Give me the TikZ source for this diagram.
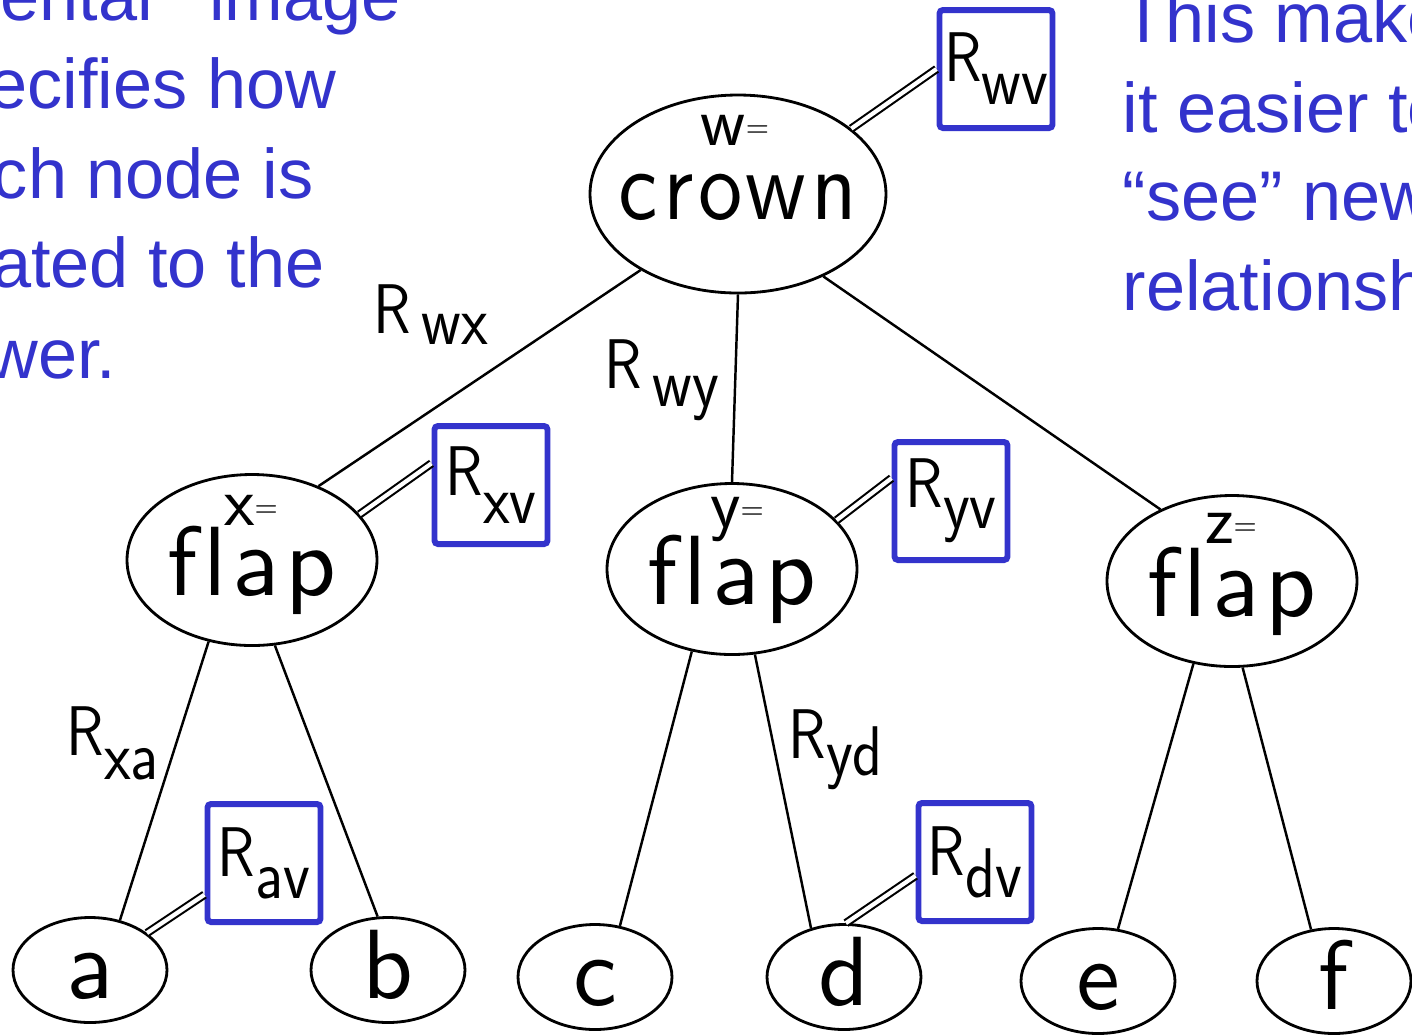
\documentclass[tikz,border=0pt]{standalone}
\usepackage{fontspec}
\usepackage{tikz}
\usetikzlibrary{calc,shapes.geometric}
\newfontfamily\arialfont{Liberation Sans}
\newfontfamily\treefont{lmsans10-regular.otf}[LetterSpace=6,Ligatures=CommonOff]
\definecolor{slideblue}{RGB}{51,51,204}
\newcommand{\rel}[2]{\scalebox{0.88}[1]{R\raisebox{-#1}{#2}}}
\newcommand{\vtag}[1]{#1\raisebox{2.5pt}{\fontsize{8}{8}\selectfont =}}

\begin{document}
\begin{tikzpicture}[x=0.1mm,y=-0.1mm,
                 term/.style={ellipse,draw,line width=0.8pt,inner sep=0pt,minimum width=25mm,minimum height=17.1mm,
                   font=\treefont\fontsize{28}{28}\selectfont,text height=22pt,text depth=2pt,
                   execute at begin node={\hbox to 0pt\bgroup\hss},execute at end node={\hss\egroup}},
                 leaf/.style={term,minimum width=15.4mm,minimum height=10.5mm,text height=17pt,text depth=1pt},
                 vtagtext/.style={font=\sffamily\fontsize{20}{20}\selectfont,inner sep=0pt,anchor=base},
                 relbox/.style={draw=slideblue,line width=1.7pt,rounded corners=1pt,minimum width=11.3mm,
                   minimum height=11.8mm,inner sep=0pt,font=\sffamily\fontsize{20}{20}\selectfont},
                 rellabel/.style={font=\sffamily\fontsize{20}{20}\selectfont,inner sep=0pt,anchor=base west},
                 branch/.style={line width=0.7pt},
                 link/.style={double,double distance=1.2pt,line width=0.6pt},
                 slidetext/.style={font=\arialfont\fontsize{20}{25.6}\selectfont,text=slideblue,inner sep=0pt}]
                 \useasboundingbox(0,0)rectangle(1412,1034);
                 \node[slidetext,anchor=base west](l1)at(0,20){ental\hspace{16pt}image};
                 \node[slidetext,anchor=base east](l2)at(337,108){ecifies how};
                 \node[slidetext,anchor=base east](l3)at(314,198){ch node is};
                 \node[slidetext,anchor=base east](l4)at(325,287){ated to the};
                 \node[slidetext,anchor=base east](l5)at(117,378){wer.};
                 \node[slidetext,anchor=base west](r1)at(1122,42){This makes};
                 \node[slidetext,anchor=base west](r2)at(1122,132){it easier to};
                 \node[slidetext,anchor=base west](r3)at(1122,220){“see” new};
                 \node[slidetext,anchor=base west](r4)at(1122,310){relationships};
                 \node[term,minimum width=29.6mm,minimum height=19.8mm,text height=16pt,text depth=1.4pt](crown)at(738,194){\scalebox{0.9}[1]{crown}};
                 \node[term](xflap)at(252,560){flap};
                 \node[term](yflap)at(732,569){flap};
                 \node[term](zflap)at(1232,581){flap};
                 \node[leaf](a)at(90,970){a};
                 \node[leaf](b)at(388,970){b};
                 \node[leaf](c)at(595,977){c};
                 \node[leaf](d)at(844,977){d};
                 \node[leaf](e)at(1098,981){e};
                 \node[leaf](f)at(1334,981){f};
                 \node[vtagtext](wtag)at(735,145){\vtag{w}};
                 \node[vtagtext](xtag)at(251,525){\vtag{x}};
                 \node[vtagtext](ytag)at(737,527){\vtag{y}};
                 \node[vtagtext](ztag)at(1231,543){\vtag{z}};
                 \draw[branch](crown.218)--(xflap.48);
                 \draw[branch](crown.270)--(yflap.90);
                 \draw[branch](crown.316)--(zflap.135);
                 \draw[branch](xflap.242)--(a.59);
                 \draw[branch](xflap.285)--(b.101);
                 \draw[branch](yflap.244)--(c.64);
                 \draw[branch](yflap.285)--(d.124);
                 \draw[branch](zflap.245)--(e.69);
                 \draw[branch](zflap.277)--(f.114);
                 \node[relbox](rwv)at(996,69){\rel{6.5pt}{wv}};
                 \node[relbox](rxv)at(491,485){\rel{8pt}{xv}};
                 \node[relbox](ryv)at(951,501){\rel{6pt}{yv}};
                 \node[relbox](rav)at(264,863){\rel{6.3pt}{av}};
                 \node[relbox](rdv)at(975,862){\rel{6.3pt}{dv}};
                 \draw[link](crown.30)--(rwv.west);
                 \draw[link](xflap.23)--(rxv.160);
                 \draw[link](yflap.25)--(ryv.159);
                 \draw[link](a.33)--(rav.208);
                 \draw[link](d.88)--(rdv.193);
                 \node[rellabel](lwx)at(373,333){\rel{3.4pt}{\,wx}};
                 \node[rellabel](lwy)at(604,388){\rel{5.4pt}{\,wy}};
                 \node[rellabel](lxa)at(66,755){\rel{7pt}{xa}};
                 \node[rellabel](lyd)at(788,758){\rel{5pt}{yd}};
               \end{tikzpicture}
\end{document}
